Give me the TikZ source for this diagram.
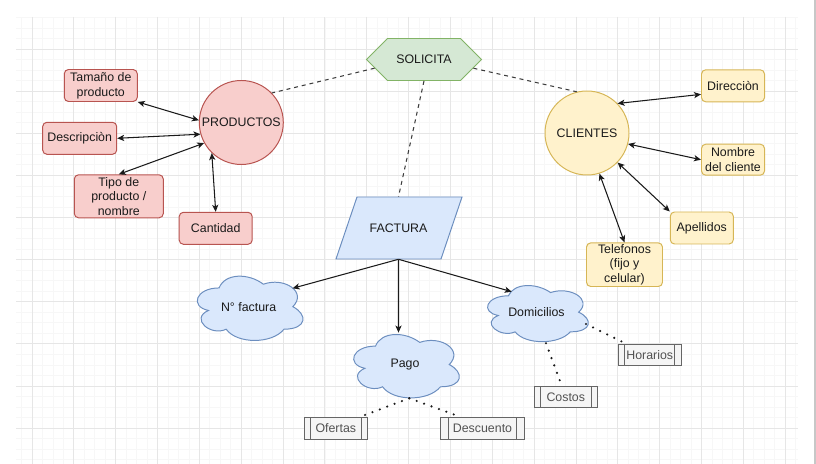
\documentclass[tikz,border=0pt]{standalone}
\usepackage{fontspec}
\setmainfont{Liberation Sans}
\usepackage{tikz}
\usetikzlibrary{positioning,calc,arrows.meta,shapes.symbols}
\definecolor{redfill}{HTML}{F8CECC}
\definecolor{redline}{HTML}{B85450}
\definecolor{yelfill}{HTML}{FFF2CC}
\definecolor{yelline}{HTML}{D6B656}
\definecolor{grnfill}{HTML}{D5E8D4}
\definecolor{grnline}{HTML}{82B366}
\definecolor{blufill}{HTML}{DAE8FC}
\definecolor{bluline}{HTML}{6C8EBF}
\definecolor{procfill}{HTML}{F5F5F5}
\definecolor{procline}{HTML}{666666}
\definecolor{inkcol}{HTML}{1A1A1A}
\definecolor{gridmaj}{HTML}{E6E6E6}
\definecolor{gridmin}{HTML}{F7F7F7}
\newcommand{\pxu}{0.025cm}
% draw.io style cloud, centre x y, size w h
\newcommand{\drawcloud}[4]{%
  \filldraw[cloudshape, shift={({#1-#3/2},{#2-#4/2})}, xscale=#3, yscale=#4]
    (0.25,0.25) .. controls (0.05,0.25) and (0,0.5) .. (0.16,0.55)
    .. controls (0,0.66) and (0.18,0.9) .. (0.31,0.8)
    .. controls (0.4,1) and (0.7,1) .. (0.8,0.8)
    .. controls (1,0.8) and (1,0.6) .. (0.875,0.5)
    .. controls (1,0.3) and (0.8,0.1) .. (0.625,0.2)
    .. controls (0.5,0.05) and (0.3,0.05) .. (0.25,0.25) -- cycle;
}

\begin{document}
\begin{tikzpicture}[x=0.025cm,y=-0.025cm,
  every node/.style={font=\fontsize{8.8}{10.4}\selectfont,text=inkcol,align=center},
  sz/.style 2 args={minimum width=#1*\pxu,minimum height=#2*\pxu},
  redbox/.style={rectangle,rounded corners=3pt,draw=redline,fill=redfill,line width=0.7pt,inner sep=1pt},
  yelbox/.style={rectangle,rounded corners=3pt,draw=yelline,fill=yelfill,line width=0.7pt,inner sep=1pt},
  bigcircle/.style={circle,line width=0.7pt,inner sep=0pt,minimum size=84*\pxu},
  procbox/.style={rectangle,draw=procline,fill=procfill,line width=0.7pt,text=procline!80!black,inner sep=1pt,
    path picture={
      \draw[procline,line width=0.7pt]
        ($(path picture bounding box.north west)!0.1!(path picture bounding box.north east)$) --
        ($(path picture bounding box.south west)!0.1!(path picture bounding box.south east)$)
        ($(path picture bounding box.north west)!0.9!(path picture bounding box.north east)$) --
        ($(path picture bounding box.south west)!0.9!(path picture bounding box.south east)$);}},
  cloudshape/.style={draw=bluline,fill=blufill,line width=0.7pt},
  biarrow/.style={{Stealth[length=5pt,width=4.4pt,inset=1.3pt]}-{Stealth[length=5pt,width=4.4pt,inset=1.3pt]},inkcol,line width=0.75pt},
  onearrow/.style={-{Stealth[length=5pt,width=4.4pt,inset=1.3pt]},inkcol,line width=0.75pt},
  dashlink/.style={inkcol!85,line width=0.75pt,dash pattern=on 2.8pt off 2.8pt},
  dotlink/.style={inkcol,line width=1.7pt,line cap=round,dash pattern=on 0pt off 5.6pt}]

\useasboundingbox (0,0) rectangle (816,464);

% grid
\begin{scope}
\clip (16,17) rectangle (798,464);
\foreach \k in {-1,...,74} \draw[gridmin,line width=0.5pt] ({32+\k*10.46},17) -- ({32+\k*10.46},464);
\foreach \k in {-3,...,42} \draw[gridmin,line width=0.5pt] (16,{49+\k*10.53}) -- (798,{49+\k*10.53});
\foreach \k in {0,...,18} \draw[gridmaj,line width=0.7pt] ({32+\k*41.85},17) -- ({32+\k*41.85},464);
\foreach \k in {0,...,10} \draw[gridmaj,line width=0.7pt] (16,{49+\k*42.13}) -- (798,{49+\k*42.13});
\end{scope}
\draw[black!22,line width=0.8pt] (815,0) -- (815,464);

% central nodes
\node[signal,signal to=west and east,signal pointer angle=90,draw=grnline,fill=grnfill,line width=0.7pt,inner sep=0pt,sz={115}{42}] (sol) at (424,59.5) {SOLICITA};
\node[bigcircle,draw=redline,fill=redfill] (prod) at (241.3,122.5) {PRODUCTOS};
\node[bigcircle,draw=yelline,fill=yelfill] (cli) at (587,133) {CLIENTES};
\filldraw[draw=bluline,fill=blufill,line width=0.7pt] (357,197) -- (462,197) -- (441,259) -- (336,259) -- cycle;
\node[sz={100}{62}] (fact) at (398.5,228) {FACTURA};

% product attributes
\node[redbox,sz={73}{32}] (tam) at (100.8,85.5) {Tamaño de\\producto};
\node[redbox,sz={74}{32}] (descr) at (79.7,138.3) {Descripciòn};
\node[redbox,sz={89}{43}] (tipo) at (118.8,196.3) {Tipo de\\producto /\\nombre};
\node[redbox,sz={73}{32}] (cant) at (215.7,228.3) {Cantidad};

% client attributes
\node[yelbox,sz={63}{32}] (dir) at (733,85.8) {Direcciòn};
\node[yelbox,sz={63}{31}] (nom) at (733,159.7) {Nombre\\del cliente};
\node[yelbox,sz={63}{32}] (ape) at (701.8,228) {Apellidos};
\node[yelbox,sz={76}{43}] (tel) at (624.5,264.7) {Telefonos\\(fijo y\\celular)};

% invoice clouds
\drawcloud{248.6}{306.7}{118}{75}
\node (nfac) at (248.6,306.7) {N° factura};
\drawcloud{405}{364.6}{118}{74}
\node (pago) at (405,364.6) {Pago};
\drawcloud{536.5}{312.2}{112.5}{65.5}
\node (dom) at (536.5,312.2) {Domicilios};

% process boxes
\node[procbox,sz={63}{22}] (ofer) at (335.8,428.5) {Ofertas};
\node[procbox,sz={84}{22}] (dcto) at (482.5,428.5) {Descuento};
\node[procbox,sz={63}{21}] (cost) at (565.8,397) {Costos};
\node[procbox,sz={63}{21}] (hor) at (649.7,354.7) {Horarios};

% links
\draw[dashlink] (sol.190) -- (prod.44);
\draw[dashlink] (sol.350) -- (cli.104);
\draw[dashlink] (sol.south) -- (fact.90);

\draw[biarrow] (tam.south east) -- (prod.177);
\draw[biarrow] (descr.east) -- (prod.196);
\draw[biarrow] (tipo.north) -- (prod.209);
\draw[biarrow] (cant.north) -- (prod.226);

\draw[biarrow] (cli.44) -- (dir.195);
\draw[biarrow] (cli.345) -- (nom.west);
\draw[biarrow] (cli.316) -- (ape.north west);
\draw[biarrow] (cli.287) -- (tel.north);

\draw[onearrow] (fact.270) -- ($(nfac.center)+(44,-18.4)$);
\draw[onearrow] (fact.270) -- ($(pago.center)+(-6.5,-32)$);
\draw[onearrow] (fact.270) -- ($(dom.center)+(-24.8,-20.5)$);

\draw[dotlink] ($(pago.center)+(4.3,33.7)$) -- ($(ofer.north east)+(-5.6,-1)$);
\draw[dotlink] ($(pago.center)+(4.3,33.7)$) -- ($(dcto.north west)+(15.3,-2)$);
\draw[dotlink] ($(dom.center)+(49.5,11.8)$) -- ($(hor.north west)+(5.7,-1.3)$);
\draw[dotlink] ($(dom.center)+(9.5,31.1)$) -- ($(cost.north)+(-4.8,-2.4)$);
\end{tikzpicture}
\end{document}
